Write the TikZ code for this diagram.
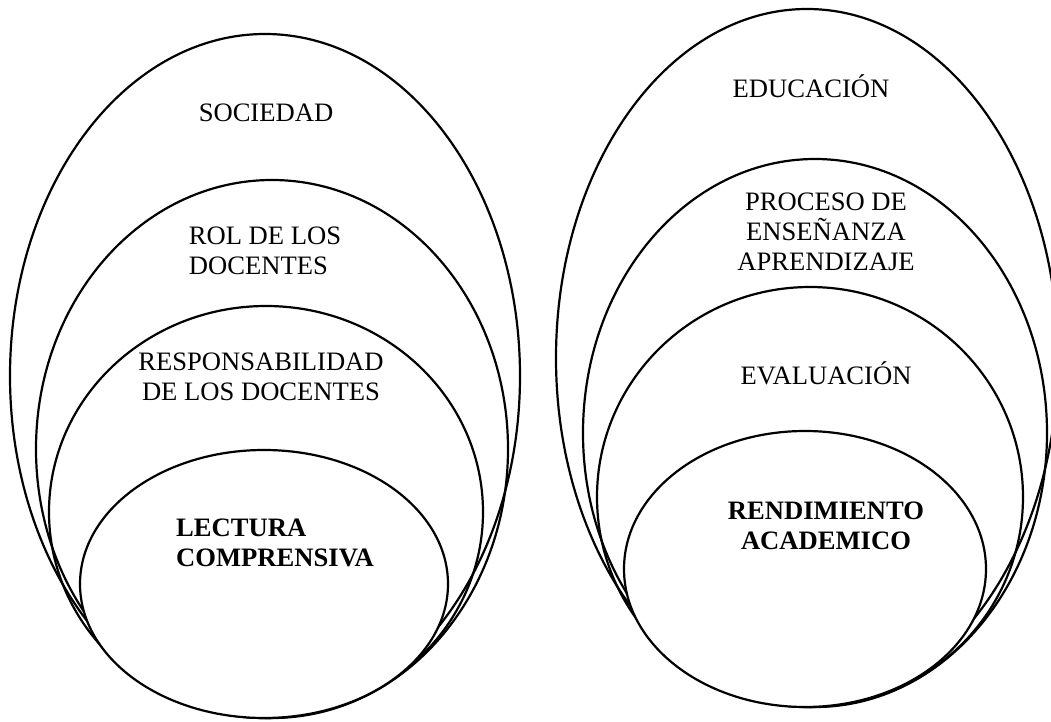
\documentclass[tikz,border=0pt]{standalone}
\usepackage{fontspec}
\setmainfont{Liberation Serif}
\usepackage{xcolor}
\colorlet{ring-line}{black}

\begin{document}
\begin{tikzpicture}[x=0.5pt,y=-0.5pt,
	ring/.style={draw=ring-line,line width=1.1pt},
	ringtext/.style={font=\fontsize{13.3}{15}\selectfont,inner sep=0pt},
	coretext/.style={font=\fontsize{13.3}{15}\selectfont\bfseries,inner sep=0pt}]
	\useasboundingbox (0,0) rectangle (1051,722);
	% left group
	\draw[ring] (264,584) ellipse [x radius=184, y radius=134];
	\begin{scope}[even odd rule]
	% outer rings end where they meet the core
	\clip (0,0) rectangle (1051,722) (264,584) ellipse [x radius=184, y radius=134];
	\draw[ring] (265,376) ellipse [x radius=255, y radius=342];
	\draw[ring] (272,449) ellipse [x radius=236, y radius=269];
	\draw[ring] (266,512) ellipse [x radius=217, y radius=206];
	\end{scope}
	\node[ringtext,anchor=base] (sociedad) at (266,122) {SOCIEDAD};
	\node[ringtext,align=left] (rol) at (265,251) {ROL DE LOS\\DOCENTES};
	\node[ringtext,align=center] (responsabilidad) at (261,377) {RESPONSABILIDAD\\DE LOS DOCENTES};
	\node[coretext,align=left] (lectura) at (275,543) {LECTURA\\COMPRENSIVA};
	% right group
	\draw[ring] (805,569) ellipse [x radius=181, y radius=138];
	\begin{scope}[even odd rule]
	\clip (0,0) rectangle (1051,722) (805,569) ellipse [x radius=181, y radius=138];
	\draw[ring] (807,358) ellipse [x radius=251, y radius=349];
	\draw[ring] (815,433) ellipse [x radius=232, y radius=274];
	\draw[ring] (810,497) ellipse [x radius=213, y radius=210];
	\end{scope}
	\node[ringtext,anchor=base] (educacion) at (811,98) {EDUCACIÓN};
	\node[ringtext,align=center] (proceso) at (826,232) {PROCESO DE\\ENSEÑANZA\\APRENDIZAJE};
	\node[ringtext,anchor=base] (evaluacion) at (826,384) {EVALUACIÓN};
	\node[coretext,align=center] (rendimiento) at (826,526) {RENDIMIENTO\\ACADEMICO};
\end{tikzpicture}
\end{document}
